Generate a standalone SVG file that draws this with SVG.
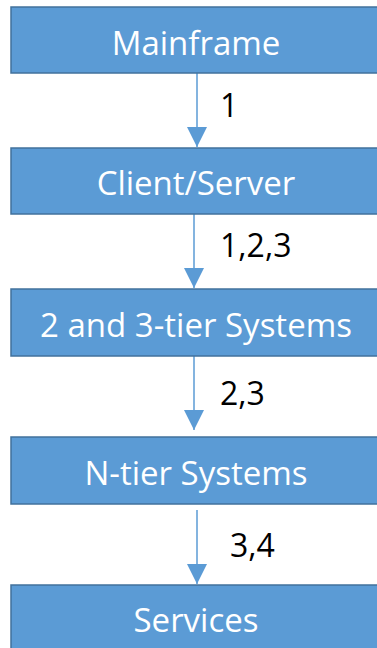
<svg xmlns="http://www.w3.org/2000/svg" width="377" height="648" viewBox="0 0 377 648">
  <defs>
    <style>
      .box { fill: #5b9bd5; stroke: #41719c; stroke-width: 1.5; }
      .title { font-family: "Open Sans", "Noto Sans", sans-serif; font-size: 33px; fill: #ffffff; text-anchor: middle; }
      .edge { stroke: #5b9bd5; stroke-width: 1.5; fill: none; marker-end: url(#head); }
      .tag { font-family: "Open Sans", "Noto Sans", sans-serif; font-size: 32px; fill: #000000; }
    </style>
    <marker id="head" viewBox="0 0 20 20" refX="20" refY="10" markerWidth="20" markerHeight="20" markerUnits="userSpaceOnUse" orient="auto">
      <path d="M0,0 L20,10 L0,20 Z" fill="#5b9bd5"/>
    </marker>
  </defs>
  <rect width="377" height="648" fill="#ffffff"/>

  <g id="connectors">
    <line class="edge" x1="197" y1="73" x2="197" y2="147"/>
    <line class="edge" x1="194" y1="214" x2="194" y2="288"/>
    <line class="edge" x1="194" y1="356" x2="194" y2="430"/>
    <line class="edge" x1="197" y1="510" x2="197" y2="584"/>
    <text class="tag" x="220" y="117">1</text>
    <text class="tag" x="220" y="257">1,2,3</text>
    <text class="tag" x="220" y="405">2,3</text>
    <text class="tag" x="230" y="557">3,4</text>
  </g>

  <g id="mainframe">
    <rect class="box" x="11" y="7" width="372" height="66"/>
    <text class="title" x="196" y="55">Mainframe</text>
  </g>
  <g id="client-server">
    <rect class="box" x="11" y="148" width="372" height="66"/>
    <text class="title" x="196" y="195">Client/Server</text>
  </g>
  <g id="two-three-tier">
    <rect class="box" x="11" y="289" width="372" height="67"/>
    <text class="title" x="196" y="337">2 and 3-tier Systems</text>
  </g>
  <g id="n-tier">
    <rect class="box" x="11" y="437" width="372" height="67"/>
    <text class="title" x="196" y="485">N-tier Systems</text>
  </g>
  <g id="services">
    <rect class="box" x="11" y="585" width="372" height="70"/>
    <text class="title" x="196" y="632">Services</text>
  </g>
</svg>
